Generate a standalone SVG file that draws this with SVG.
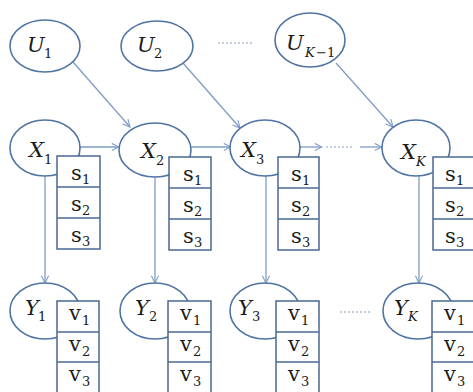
<svg xmlns="http://www.w3.org/2000/svg" width="473" height="392" viewBox="0 0 473 392">
<defs>
<marker id="arr" viewBox="0 0 10 10" refX="9" refY="5" markerWidth="9" markerHeight="9" orient="auto" markerUnits="userSpaceOnUse">
<path d="M1,1 L9,5 L1,9" fill="none" stroke="#7f9cc6" stroke-width="1.2"/>
</marker>
<style>
.ell{fill:#fff;stroke:#4f74a3;stroke-width:1.6}
.box{fill:#fff;stroke:#4a6894;stroke-width:1.5}
.ln{stroke:#7f9cc6;stroke-width:1.3;fill:none}
.dot{stroke:#8a9fbf;stroke-width:1;stroke-dasharray:2,2;fill:none}
.lab{font-family:"DejaVu Serif",serif;font-style:italic;font-size:21px;fill:#1a1a1a}
.sub{font-family:"DejaVu Serif",serif;font-style:normal;font-size:13px;fill:#1a1a1a}
.subi{font-family:"DejaVu Serif",serif;font-style:italic;font-size:13px;fill:#1a1a1a}
.cell{font-family:"DejaVu Serif",serif;font-size:21px;fill:#1a1a1a}
</style>
</defs>
<rect width="473" height="392" fill="#fff"/>
<g id="connectors">
<line class="ln" x1="73" y1="62" x2="130" y2="127" marker-end="url(#arr)"/>
<line class="ln" x1="183" y1="63" x2="240" y2="128" marker-end="url(#arr)"/>
<line class="ln" x1="336" y1="63" x2="393" y2="127" marker-end="url(#arr)"/>
<line class="ln" x1="80" y1="147" x2="119" y2="147" marker-end="url(#arr)"/>
<line class="ln" x1="190" y1="147" x2="231" y2="147" marker-end="url(#arr)"/>
<line class="ln" x1="300" y1="147" x2="322" y2="147" marker-end="url(#arr)"/>
<line class="ln" x1="360" y1="147" x2="382" y2="147" marker-end="url(#arr)"/>
<line class="dot" x1="326" y1="147" x2="354" y2="147"/>
<line class="dot" x1="218" y1="43" x2="252" y2="43"/>
<line class="dot" x1="340" y1="312" x2="370" y2="312"/>
<line class="ln" x1="45" y1="176" x2="45" y2="283" marker-end="url(#arr)"/>
<line class="ln" x1="155" y1="177" x2="155" y2="283" marker-end="url(#arr)"/>
<line class="ln" x1="266" y1="176" x2="266" y2="283" marker-end="url(#arr)"/>
<line class="ln" x1="419" y1="176" x2="419" y2="283" marker-end="url(#arr)"/>
</g>
<g id="U1">
<ellipse class="ell" cx="45" cy="46" rx="35" ry="26"/>
<text class="lab" x="27" y="52">U</text><text class="sub" x="44" y="58">1</text>
</g>
<g id="U2">
<ellipse class="ell" cx="157" cy="46" rx="36" ry="25"/>
<text class="lab" x="137" y="52">U</text><text class="sub" x="154" y="58">2</text>
</g>
<g id="UK1">
<ellipse class="ell" cx="310" cy="40" rx="35" ry="27"/>
<text class="lab" x="286" y="50">U</text><text class="subi" x="305" y="57">K</text><text class="sub" x="316" y="57">−1</text>
</g>
<g id="X1">
<ellipse class="ell" cx="45" cy="148" rx="35" ry="28"/>
<rect class="box" x="57" y="156" width="43" height="93"/>
<line class="box" x1="57" y1="187" x2="100" y2="187"/>
<line class="box" x1="57" y1="218" x2="100" y2="218"/>
<text class="lab" x="29" y="157">X</text><text class="sub" x="44" y="164">1</text>
<text class="cell" x="71" y="180">s</text><text class="sub" x="82" y="184">1</text>
<text class="cell" x="71" y="211">s</text><text class="sub" x="82" y="215">2</text>
<text class="cell" x="71" y="242">s</text><text class="sub" x="82" y="246">3</text>
</g>
<g id="X2">
<ellipse class="ell" cx="155" cy="150" rx="36" ry="27"/>
<rect class="box" x="169" y="157" width="42" height="93"/>
<line class="box" x1="169" y1="188" x2="211" y2="188"/>
<line class="box" x1="169" y1="219" x2="211" y2="219"/>
<text class="lab" x="141" y="158">X</text><text class="sub" x="156" y="165">2</text>
<text class="cell" x="183" y="181">s</text><text class="sub" x="194" y="185">1</text>
<text class="cell" x="183" y="212">s</text><text class="sub" x="194" y="216">2</text>
<text class="cell" x="183" y="243">s</text><text class="sub" x="194" y="247">3</text>
</g>
<g id="X3">
<ellipse class="ell" cx="265" cy="148" rx="35" ry="28"/>
<rect class="box" x="278" y="157" width="41" height="93"/>
<line class="box" x1="278" y1="188" x2="319" y2="188"/>
<line class="box" x1="278" y1="219" x2="319" y2="219"/>
<text class="lab" x="241" y="157">X</text><text class="sub" x="256" y="164">3</text>
<text class="cell" x="291" y="181">s</text><text class="sub" x="302" y="185">1</text>
<text class="cell" x="291" y="212">s</text><text class="sub" x="302" y="216">2</text>
<text class="cell" x="291" y="243">s</text><text class="sub" x="302" y="247">3</text>
</g>
<g id="XK">
<ellipse class="ell" cx="416" cy="148" rx="34" ry="28"/>
<rect class="box" x="433" y="157" width="50" height="93"/>
<line class="box" x1="433" y1="188" x2="483" y2="188"/>
<line class="box" x1="433" y1="219" x2="483" y2="219"/>
<text class="lab" x="401" y="159">X</text><text class="subi" x="416" y="166">K</text>
<text class="cell" x="445" y="181">s</text><text class="sub" x="456" y="185">1</text>
<text class="cell" x="445" y="212">s</text><text class="sub" x="456" y="216">2</text>
<text class="cell" x="445" y="243">s</text><text class="sub" x="456" y="247">3</text>
</g>
<g id="Y1">
<ellipse class="ell" cx="45" cy="311" rx="35" ry="28"/>
<rect class="box" x="57" y="301" width="42" height="100"/>
<line class="box" x1="57" y1="332" x2="99" y2="332"/>
<line class="box" x1="57" y1="362" x2="99" y2="362"/>
<text class="lab" x="25" y="315">Y</text><text class="sub" x="38" y="321">1</text>
<text class="cell" x="69" y="320">v</text><text class="sub" x="82" y="325">1</text>
<text class="cell" x="69" y="351">v</text><text class="sub" x="82" y="356">2</text>
<text class="cell" x="69" y="381">v</text><text class="sub" x="82" y="386">3</text>
</g>
<g id="Y2">
<ellipse class="ell" cx="155" cy="311" rx="35" ry="28"/>
<rect class="box" x="168" y="301" width="43" height="100"/>
<line class="box" x1="168" y1="332" x2="211" y2="332"/>
<line class="box" x1="168" y1="362" x2="211" y2="362"/>
<text class="lab" x="135" y="315">Y</text><text class="sub" x="149" y="321">2</text>
<text class="cell" x="180" y="320">v</text><text class="sub" x="193" y="325">1</text>
<text class="cell" x="180" y="351">v</text><text class="sub" x="193" y="356">2</text>
<text class="cell" x="180" y="381">v</text><text class="sub" x="193" y="386">3</text>
</g>
<g id="Y3">
<ellipse class="ell" cx="265" cy="311" rx="35" ry="28"/>
<rect class="box" x="276" y="301" width="43" height="100"/>
<line class="box" x1="276" y1="332" x2="319" y2="332"/>
<line class="box" x1="276" y1="362" x2="319" y2="362"/>
<text class="lab" x="238" y="315">Y</text><text class="sub" x="252" y="321">3</text>
<text class="cell" x="288" y="320">v</text><text class="sub" x="301" y="325">1</text>
<text class="cell" x="288" y="351">v</text><text class="sub" x="301" y="356">2</text>
<text class="cell" x="288" y="381">v</text><text class="sub" x="301" y="386">3</text>
</g>
<g id="YK">
<ellipse class="ell" cx="418" cy="311" rx="35" ry="28"/>
<rect class="box" x="432" y="301" width="50" height="100"/>
<line class="box" x1="432" y1="332" x2="482" y2="332"/>
<line class="box" x1="432" y1="362" x2="482" y2="362"/>
<text class="lab" x="394" y="315">Y</text><text class="subi" x="408" y="321">K</text>
<text class="cell" x="444" y="320">v</text><text class="sub" x="457" y="325">1</text>
<text class="cell" x="444" y="351">v</text><text class="sub" x="457" y="356">2</text>
<text class="cell" x="444" y="381">v</text><text class="sub" x="457" y="386">3</text>
</g>
</svg>
